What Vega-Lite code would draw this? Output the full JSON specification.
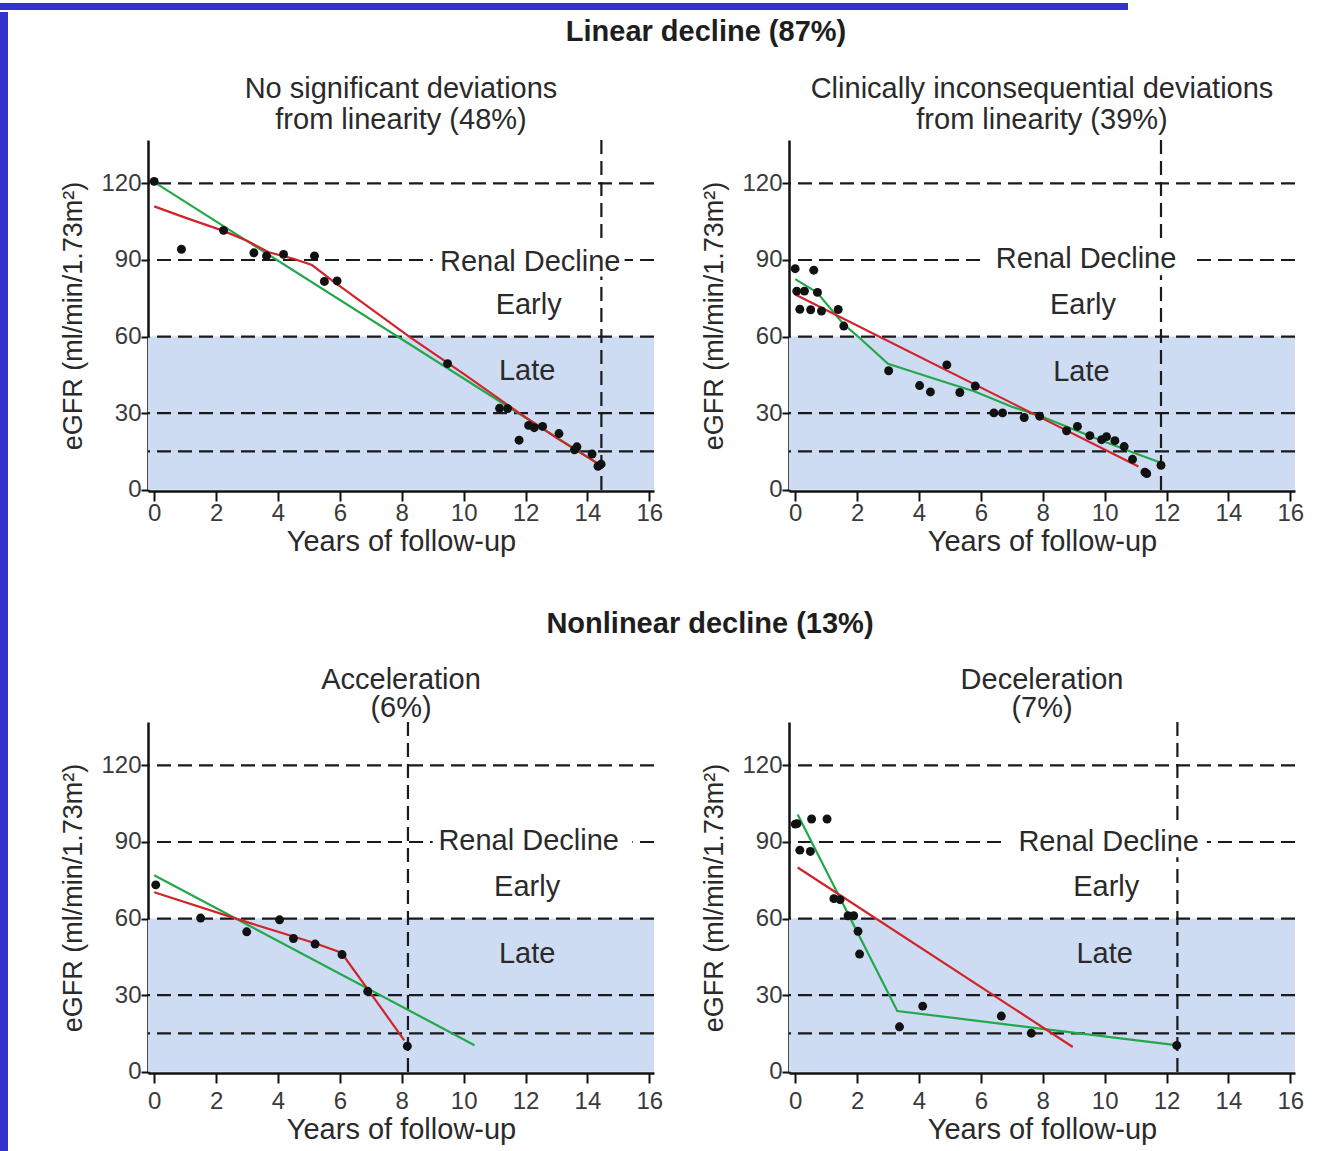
{
  "$schema": "https://vega.github.io/schema/vega-lite/v6.json",
  "padding": 0,
  "background": "white",
  "datasets": {
    "refs": [{"egfr": 120}, {"egfr": 90}, {"egfr": 60}, {"egfr": 30}, {"egfr": 15}],
    "band": [{"lo": 0, "hi": 60}],
    "head1": [{"t": "Linear decline (87%)"}],
    "head2": [{"t": "Nonlinear decline (13%)"}],
    "tl_pts": [{"x":0,"y":120.8},{"x":0.88,"y":94.2},{"x":2.24,"y":101.6},{"x":3.22,"y":92.8},{"x":3.63,"y":91.6},{"x":4.18,"y":92.2},{"x":5.18,"y":91.6},{"x":5.5,"y":81.6},{"x":5.91,"y":81.8},{"x":9.48,"y":49.4},{"x":11.16,"y":31.9},{"x":11.42,"y":31.8},{"x":11.79,"y":19.4},{"x":12.1,"y":25.2},{"x":12.28,"y":24.3},{"x":12.55,"y":24.8},{"x":13.08,"y":22},{"x":13.58,"y":15.6},{"x":13.66,"y":16.8},{"x":14.15,"y":14},{"x":14.34,"y":9.2},{"x":14.44,"y":10}],
    "tl_green": [{"x":0,"y":120.5},{"x":14.3,"y":10.5}],
    "tl_red": [{"x":0,"y":111},{"x":1,"y":106.6},{"x":2.26,"y":101.3},{"x":3,"y":97.5},{"x":3.7,"y":93},{"x":4.5,"y":90.5},{"x":5.1,"y":88},{"x":5.7,"y":82.4},{"x":8.24,"y":60},{"x":10,"y":45.4},{"x":11.8,"y":30},{"x":13,"y":20.3},{"x":14.3,"y":10.5}],
    "tl_cut": [{"t": 14.45}],
    "tl_box": [{"x0": 9.0, "x1": 15.2, "y0": 83.5, "y1": 96}],
    "tl_lab": [{"label":"Renal Decline","x":12.15,"y":89.3},{"label":"Early","x":12.1,"y":72.5},{"label":"Late","x":12.05,"y":46.5}],
    "tr_pts": [{"x":0,"y":86.6},{"x":0.05,"y":77.8},{"x":0.3,"y":77.8},{"x":0.15,"y":70.7},{"x":0.5,"y":70.5},{"x":0.6,"y":86},{"x":0.72,"y":77.3},{"x":0.85,"y":70},{"x":1.39,"y":70.6},{"x":1.57,"y":64.1},{"x":3.02,"y":46.6},{"x":4.02,"y":40.8},{"x":4.37,"y":38.3},{"x":4.9,"y":48.9},{"x":5.32,"y":38.1},{"x":5.82,"y":40.6},{"x":6.42,"y":30.1},{"x":6.7,"y":30.1},{"x":7.4,"y":28.3},{"x":7.9,"y":28.8},{"x":8.77,"y":23.1},{"x":9.12,"y":24.8},{"x":9.52,"y":21.2},{"x":9.9,"y":19.6},{"x":10.06,"y":20.8},{"x":10.33,"y":19.2},{"x":10.63,"y":16.9},{"x":10.9,"y":11.9},{"x":11.3,"y":6.9},{"x":11.36,"y":6.3},{"x":11.82,"y":9.6}],
    "tr_green": [{"x":0,"y":82.5},{"x":0.7,"y":77.3},{"x":1.55,"y":65},{"x":2.03,"y":60},{"x":3.0,"y":49.3},{"x":4.5,"y":43.5},{"x":5.8,"y":38.5},{"x":7.0,"y":32.5},{"x":7.9,"y":29},{"x":9.79,"y":19.8},{"x":10.98,"y":14.3},{"x":11.84,"y":10.5}],
    "tr_red": [{"x":0,"y":76.5},{"x":11.09,"y":9.1}],
    "tr_cut": [{"t": 11.82}],
    "tr_box": [{"x0": 6.1, "x1": 12.8, "y0": 84, "y1": 97}],
    "tr_lab": [{"label":"Renal Decline","x":9.4,"y":90.3},{"label":"Early","x":9.3,"y":72.3},{"label":"Late","x":9.25,"y":46.3}],
    "bl_pts": [{"x":0.05,"y":73.2},{"x":1.5,"y":60.2},{"x":2.99,"y":54.8},{"x":4.05,"y":59.5},{"x":4.5,"y":52.2},{"x":5.2,"y":50},{"x":6.07,"y":45.9},{"x":6.9,"y":31.5},{"x":8.18,"y":10}],
    "bl_green": [{"x":0,"y":77},{"x":10.35,"y":10.4}],
    "bl_red": [{"x":0,"y":70.3},{"x":3,"y":58.6},{"x":4.5,"y":53},{"x":5.2,"y":50.3},{"x":6.05,"y":46.6},{"x":6.95,"y":31.5},{"x":8.08,"y":12.3}],
    "bl_cut": [{"t": 8.2}],
    "bl_box": [{"x0": 9.0, "x1": 15.45, "y0": 84, "y1": 97}],
    "bl_lab": [{"label":"Renal Decline","x":12.1,"y":90.4},{"label":"Early","x":12.05,"y":72.2},{"label":"Late","x":12.05,"y":46.3}],
    "br_pts": [{"x":0,"y":97},{"x":0.06,"y":97.2},{"x":0.53,"y":99},{"x":1.03,"y":99},{"x":0.15,"y":86.8},{"x":0.49,"y":86.3},{"x":1.25,"y":67.8},{"x":1.45,"y":67.4},{"x":1.71,"y":61.1},{"x":1.89,"y":61.1},{"x":2.03,"y":55},{"x":2.08,"y":46.1},{"x":3.37,"y":17.6},{"x":4.12,"y":25.7},{"x":6.66,"y":21.8},{"x":7.63,"y":15.1},{"x":12.33,"y":10.3}],
    "br_green": [{"x":0.08,"y":100.8},{"x":3.3,"y":23.8},{"x":12.3,"y":10.4}],
    "br_red": [{"x":0.08,"y":80},{"x":8.97,"y":9.7}],
    "br_cut": [{"t": 12.35}],
    "br_box": [{"x0": 6.75, "x1": 13.3, "y0": 84, "y1": 97}],
    "br_lab": [{"label":"Renal Decline","x":10.13,"y":89.8},{"label":"Early","x":10.05,"y":72.2},{"label":"Late","x":10.0,"y":46.3}]
  },
  "spacing": 0,
  "vconcat": [
    {
      "width": 1128, "height": 7,
      "view": {"fill": "#3333cc", "stroke": null},
      "data": {"values": [{}]},
      "mark": {"type": "text"},
      "encoding": {"text": {"value": ""}}
    },
    {
      "spacing": 51,
      "hconcat": [
        {
          "width": 8, "height": 1144,
          "view": {"fill": "#3333cc", "stroke": null},
          "data": {"values": [{}]},
          "mark": {"type": "text"},
          "encoding": {"text": {"value": ""}}
        },
        {
          "spacing": 48,
          "vconcat": [
            {
              "spacing": 22,
              "vconcat": [
                {
                  "width": 1116, "height": 40,
                  "data": {"name": "head1"},
                  "mark": {"type": "text", "fontSize": 29, "fontWeight": "bold", "color": "#1e1e1e", "baseline": "middle", "align": "center"},
                  "encoding": {"text": {"field": "t"}}
                },
                {
                  "spacing": 37,
                  "hconcat": [
                    {
                      "width": 506, "height": 351,
                      "title": {"text": ["No significant deviations", "from linearity (48%)"], "lineHeight": 31, "offset": 4},
                      "layer": [
                        {"data": {"name": "band"}, "mark": {"type": "rect", "color": "#cddcf2"},
                         "encoding": {"x": {"datum": -0.2, "type": "quantitative", "scale": {"domain": [-0.2, 16.15], "nice": false, "zero": false}}, "x2": {"datum": 16.15},
                                      "y": {"field": "lo", "type": "quantitative", "scale": {"domain": [-0.5, 137], "nice": false, "zero": false}}, "y2": {"field": "hi"}}},
                        {"data": {"name": "refs"}, "mark": {"type": "rule", "color": "#1a1a1a", "strokeWidth": 2.2, "strokeDash": [14, 7]},
                         "encoding": {"y": {"field": "egfr", "type": "quantitative", "scale": {"domain": [-0.5, 137], "nice": false, "zero": false}}}},
                        {"data": {"name": "tl_cut"}, "mark": {"type": "rule", "color": "#1a1a1a", "strokeWidth": 2.2, "strokeDash": [14, 7]},
                         "encoding": {"x": {"field": "t", "type": "quantitative", "scale": {"domain": [-0.2, 16.15], "nice": false, "zero": false}}}},
                        {"data": {"name": "tl_box"}, "mark": {"type": "rect", "color": "white"},
                         "encoding": {"x": {"field": "x0", "type": "quantitative", "scale": {"domain": [-0.2, 16.15], "nice": false, "zero": false}}, "x2": {"field": "x1"},
                                      "y": {"field": "y0", "type": "quantitative", "scale": {"domain": [-0.5, 137], "nice": false, "zero": false}}, "y2": {"field": "y1"}}},
                        {"data": {"name": "tl_lab"}, "mark": {"type": "text", "fontSize": 29, "color": "#2a2a2a", "align": "center", "baseline": "middle"},
                         "encoding": {"x": {"field": "x", "type": "quantitative", "scale": {"domain": [-0.2, 16.15], "nice": false, "zero": false}},
                                      "y": {"field": "y", "type": "quantitative", "scale": {"domain": [-0.5, 137], "nice": false, "zero": false}}, "text": {"field": "label"}}},
                        {"data": {"name": "tl_green"}, "mark": {"type": "line", "color": "#22a84a", "strokeWidth": 2.2},
                         "encoding": {"x": {"field": "x", "type": "quantitative", "scale": {"domain": [-0.2, 16.15], "nice": false, "zero": false}},
                                      "y": {"field": "y", "type": "quantitative", "scale": {"domain": [-0.5, 137], "nice": false, "zero": false}}}},
                        {"data": {"name": "tl_red"}, "mark": {"type": "line", "color": "#d2232a", "strokeWidth": 2.2},
                         "encoding": {"x": {"field": "x", "type": "quantitative", "scale": {"domain": [-0.2, 16.15], "nice": false, "zero": false}},
                                      "y": {"field": "y", "type": "quantitative", "scale": {"domain": [-0.5, 137], "nice": false, "zero": false}}}},
                        {"data": {"name": "tl_pts"}, "mark": {"type": "circle", "size": 80, "color": "#111111", "opacity": 1},
                         "encoding": {"x": {"field": "x", "type": "quantitative", "scale": {"domain": [-0.2, 16.15], "nice": false, "zero": false},
                                            "axis": {"title": "Years of follow-up", "values": [0,0.5,1,1.5,2,2.5,3,3.5,4,4.5,5,5.5,6,6.5,7,7.5,8,8.5,9,9.5,10,10.5,11,11.5,12,12.5,13,13.5,14,14.5,15,15.5,16], "labelExpr": "datum.value % 2 === 0 ? datum.label : ''", "labelOverlap": false, "labelFlush": false, "tickSize": {"condition": {"test": "datum.value % 2 === 0", "value": 10}, "value": 6}, "labelPadding": 0, "titlePadding": 2}},
                                      "y": {"field": "y", "type": "quantitative", "scale": {"domain": [-0.5, 137], "nice": false, "zero": false},
                                            "axis": {"title": "eGFR (ml/min/1.73m²)", "values": [0,7.5,15,22.5,30,37.5,45,52.5,60,67.5,75,82.5,90,97.5,105,112.5,120,127.5,135], "labelExpr": "datum.value % 30 === 0 ? datum.label : ''", "labelOverlap": false, "tickSize": 7, "labelPadding": 0, "titlePadding": 13, "titleFontSize": 27}}}}
                      ]
                    },
                    {
                      "width": 506, "height": 351,
                      "title": {"text": ["Clinically inconsequential deviations", "from linearity (39%)"], "lineHeight": 31, "offset": 4},
                      "layer": [
                        {"data": {"name": "band"}, "mark": {"type": "rect", "color": "#cddcf2"},
                         "encoding": {"x": {"datum": -0.2, "type": "quantitative", "scale": {"domain": [-0.2, 16.15], "nice": false, "zero": false}}, "x2": {"datum": 16.15},
                                      "y": {"field": "lo", "type": "quantitative", "scale": {"domain": [-0.5, 137], "nice": false, "zero": false}}, "y2": {"field": "hi"}}},
                        {"data": {"name": "refs"}, "mark": {"type": "rule", "color": "#1a1a1a", "strokeWidth": 2.2, "strokeDash": [14, 7]},
                         "encoding": {"y": {"field": "egfr", "type": "quantitative", "scale": {"domain": [-0.5, 137], "nice": false, "zero": false}}}},
                        {"data": {"name": "tr_cut"}, "mark": {"type": "rule", "color": "#1a1a1a", "strokeWidth": 2.2, "strokeDash": [14, 7]},
                         "encoding": {"x": {"field": "t", "type": "quantitative", "scale": {"domain": [-0.2, 16.15], "nice": false, "zero": false}}}},
                        {"data": {"name": "tr_box"}, "mark": {"type": "rect", "color": "white"},
                         "encoding": {"x": {"field": "x0", "type": "quantitative", "scale": {"domain": [-0.2, 16.15], "nice": false, "zero": false}}, "x2": {"field": "x1"},
                                      "y": {"field": "y0", "type": "quantitative", "scale": {"domain": [-0.5, 137], "nice": false, "zero": false}}, "y2": {"field": "y1"}}},
                        {"data": {"name": "tr_lab"}, "mark": {"type": "text", "fontSize": 29, "color": "#2a2a2a", "align": "center", "baseline": "middle"},
                         "encoding": {"x": {"field": "x", "type": "quantitative", "scale": {"domain": [-0.2, 16.15], "nice": false, "zero": false}},
                                      "y": {"field": "y", "type": "quantitative", "scale": {"domain": [-0.5, 137], "nice": false, "zero": false}}, "text": {"field": "label"}}},
                        {"data": {"name": "tr_green"}, "mark": {"type": "line", "color": "#22a84a", "strokeWidth": 2.2},
                         "encoding": {"x": {"field": "x", "type": "quantitative", "scale": {"domain": [-0.2, 16.15], "nice": false, "zero": false}},
                                      "y": {"field": "y", "type": "quantitative", "scale": {"domain": [-0.5, 137], "nice": false, "zero": false}}}},
                        {"data": {"name": "tr_red"}, "mark": {"type": "line", "color": "#d2232a", "strokeWidth": 2.2},
                         "encoding": {"x": {"field": "x", "type": "quantitative", "scale": {"domain": [-0.2, 16.15], "nice": false, "zero": false}},
                                      "y": {"field": "y", "type": "quantitative", "scale": {"domain": [-0.5, 137], "nice": false, "zero": false}}}},
                        {"data": {"name": "tr_pts"}, "mark": {"type": "circle", "size": 80, "color": "#111111", "opacity": 1},
                         "encoding": {"x": {"field": "x", "type": "quantitative", "scale": {"domain": [-0.2, 16.15], "nice": false, "zero": false},
                                            "axis": {"title": "Years of follow-up", "values": [0,0.5,1,1.5,2,2.5,3,3.5,4,4.5,5,5.5,6,6.5,7,7.5,8,8.5,9,9.5,10,10.5,11,11.5,12,12.5,13,13.5,14,14.5,15,15.5,16], "labelExpr": "datum.value % 2 === 0 ? datum.label : ''", "labelOverlap": false, "labelFlush": false, "tickSize": {"condition": {"test": "datum.value % 2 === 0", "value": 10}, "value": 6}, "labelPadding": 0, "titlePadding": 2}},
                                      "y": {"field": "y", "type": "quantitative", "scale": {"domain": [-0.5, 137], "nice": false, "zero": false},
                                            "axis": {"title": "eGFR (ml/min/1.73m²)", "values": [0,7.5,15,22.5,30,37.5,45,52.5,60,67.5,75,82.5,90,97.5,105,112.5,120,127.5,135], "labelExpr": "datum.value % 30 === 0 ? datum.label : ''", "labelOverlap": false, "tickSize": 7, "labelPadding": 0, "titlePadding": 13, "titleFontSize": 27}}}}
                      ]
                    }
                  ]
                }
              ]
            },
            {
              "spacing": 21,
              "vconcat": [
                {
                  "width": 1124, "height": 40,
                  "data": {"name": "head2"},
                  "mark": {"type": "text", "fontSize": 29, "fontWeight": "bold", "color": "#1e1e1e", "baseline": "middle", "align": "center"},
                  "encoding": {"text": {"field": "t"}}
                },
                {
                  "spacing": 37,
                  "hconcat": [
                    {
                      "width": 506, "height": 351,
                      "title": {"text": ["Acceleration", "(6%)"], "lineHeight": 28, "offset": -2},
                      "layer": [
                        {"data": {"name": "band"}, "mark": {"type": "rect", "color": "#cddcf2"},
                         "encoding": {"x": {"datum": -0.2, "type": "quantitative", "scale": {"domain": [-0.2, 16.15], "nice": false, "zero": false}}, "x2": {"datum": 16.15},
                                      "y": {"field": "lo", "type": "quantitative", "scale": {"domain": [-0.5, 137], "nice": false, "zero": false}}, "y2": {"field": "hi"}}},
                        {"data": {"name": "refs"}, "mark": {"type": "rule", "color": "#1a1a1a", "strokeWidth": 2.2, "strokeDash": [14, 7]},
                         "encoding": {"y": {"field": "egfr", "type": "quantitative", "scale": {"domain": [-0.5, 137], "nice": false, "zero": false}}}},
                        {"data": {"name": "bl_cut"}, "mark": {"type": "rule", "color": "#1a1a1a", "strokeWidth": 2.2, "strokeDash": [14, 7]},
                         "encoding": {"x": {"field": "t", "type": "quantitative", "scale": {"domain": [-0.2, 16.15], "nice": false, "zero": false}}}},
                        {"data": {"name": "bl_box"}, "mark": {"type": "rect", "color": "white"},
                         "encoding": {"x": {"field": "x0", "type": "quantitative", "scale": {"domain": [-0.2, 16.15], "nice": false, "zero": false}}, "x2": {"field": "x1"},
                                      "y": {"field": "y0", "type": "quantitative", "scale": {"domain": [-0.5, 137], "nice": false, "zero": false}}, "y2": {"field": "y1"}}},
                        {"data": {"name": "bl_lab"}, "mark": {"type": "text", "fontSize": 29, "color": "#2a2a2a", "align": "center", "baseline": "middle"},
                         "encoding": {"x": {"field": "x", "type": "quantitative", "scale": {"domain": [-0.2, 16.15], "nice": false, "zero": false}},
                                      "y": {"field": "y", "type": "quantitative", "scale": {"domain": [-0.5, 137], "nice": false, "zero": false}}, "text": {"field": "label"}}},
                        {"data": {"name": "bl_green"}, "mark": {"type": "line", "color": "#22a84a", "strokeWidth": 2.2},
                         "encoding": {"x": {"field": "x", "type": "quantitative", "scale": {"domain": [-0.2, 16.15], "nice": false, "zero": false}},
                                      "y": {"field": "y", "type": "quantitative", "scale": {"domain": [-0.5, 137], "nice": false, "zero": false}}}},
                        {"data": {"name": "bl_red"}, "mark": {"type": "line", "color": "#d2232a", "strokeWidth": 2.2},
                         "encoding": {"x": {"field": "x", "type": "quantitative", "scale": {"domain": [-0.2, 16.15], "nice": false, "zero": false}},
                                      "y": {"field": "y", "type": "quantitative", "scale": {"domain": [-0.5, 137], "nice": false, "zero": false}}}},
                        {"data": {"name": "bl_pts"}, "mark": {"type": "circle", "size": 80, "color": "#111111", "opacity": 1},
                         "encoding": {"x": {"field": "x", "type": "quantitative", "scale": {"domain": [-0.2, 16.15], "nice": false, "zero": false},
                                            "axis": {"title": "Years of follow-up", "values": [0,0.5,1,1.5,2,2.5,3,3.5,4,4.5,5,5.5,6,6.5,7,7.5,8,8.5,9,9.5,10,10.5,11,11.5,12,12.5,13,13.5,14,14.5,15,15.5,16], "labelExpr": "datum.value % 2 === 0 ? datum.label : ''", "labelOverlap": false, "labelFlush": false, "tickSize": {"condition": {"test": "datum.value % 2 === 0", "value": 10}, "value": 6}, "labelPadding": 6, "titlePadding": 2}},
                                      "y": {"field": "y", "type": "quantitative", "scale": {"domain": [-0.5, 137], "nice": false, "zero": false},
                                            "axis": {"title": "eGFR (ml/min/1.73m²)", "values": [0,7.5,15,22.5,30,37.5,45,52.5,60,67.5,75,82.5,90,97.5,105,112.5,120,127.5,135], "labelExpr": "datum.value % 30 === 0 ? datum.label : ''", "labelOverlap": false, "tickSize": 7, "labelPadding": 0, "titlePadding": 13, "titleFontSize": 27}}}}
                      ]
                    },
                    {
                      "width": 506, "height": 351,
                      "title": {"text": ["Deceleration", "(7%)"], "lineHeight": 28, "offset": -2},
                      "layer": [
                        {"data": {"name": "band"}, "mark": {"type": "rect", "color": "#cddcf2"},
                         "encoding": {"x": {"datum": -0.2, "type": "quantitative", "scale": {"domain": [-0.2, 16.15], "nice": false, "zero": false}}, "x2": {"datum": 16.15},
                                      "y": {"field": "lo", "type": "quantitative", "scale": {"domain": [-0.5, 137], "nice": false, "zero": false}}, "y2": {"field": "hi"}}},
                        {"data": {"name": "refs"}, "mark": {"type": "rule", "color": "#1a1a1a", "strokeWidth": 2.2, "strokeDash": [14, 7]},
                         "encoding": {"y": {"field": "egfr", "type": "quantitative", "scale": {"domain": [-0.5, 137], "nice": false, "zero": false}}}},
                        {"data": {"name": "br_cut"}, "mark": {"type": "rule", "color": "#1a1a1a", "strokeWidth": 2.2, "strokeDash": [14, 7]},
                         "encoding": {"x": {"field": "t", "type": "quantitative", "scale": {"domain": [-0.2, 16.15], "nice": false, "zero": false}}}},
                        {"data": {"name": "br_box"}, "mark": {"type": "rect", "color": "white"},
                         "encoding": {"x": {"field": "x0", "type": "quantitative", "scale": {"domain": [-0.2, 16.15], "nice": false, "zero": false}}, "x2": {"field": "x1"},
                                      "y": {"field": "y0", "type": "quantitative", "scale": {"domain": [-0.5, 137], "nice": false, "zero": false}}, "y2": {"field": "y1"}}},
                        {"data": {"name": "br_lab"}, "mark": {"type": "text", "fontSize": 29, "color": "#2a2a2a", "align": "center", "baseline": "middle"},
                         "encoding": {"x": {"field": "x", "type": "quantitative", "scale": {"domain": [-0.2, 16.15], "nice": false, "zero": false}},
                                      "y": {"field": "y", "type": "quantitative", "scale": {"domain": [-0.5, 137], "nice": false, "zero": false}}, "text": {"field": "label"}}},
                        {"data": {"name": "br_green"}, "mark": {"type": "line", "color": "#22a84a", "strokeWidth": 2.2},
                         "encoding": {"x": {"field": "x", "type": "quantitative", "scale": {"domain": [-0.2, 16.15], "nice": false, "zero": false}},
                                      "y": {"field": "y", "type": "quantitative", "scale": {"domain": [-0.5, 137], "nice": false, "zero": false}}}},
                        {"data": {"name": "br_red"}, "mark": {"type": "line", "color": "#d2232a", "strokeWidth": 2.2},
                         "encoding": {"x": {"field": "x", "type": "quantitative", "scale": {"domain": [-0.2, 16.15], "nice": false, "zero": false}},
                                      "y": {"field": "y", "type": "quantitative", "scale": {"domain": [-0.5, 137], "nice": false, "zero": false}}}},
                        {"data": {"name": "br_pts"}, "mark": {"type": "circle", "size": 80, "color": "#111111", "opacity": 1},
                         "encoding": {"x": {"field": "x", "type": "quantitative", "scale": {"domain": [-0.2, 16.15], "nice": false, "zero": false},
                                            "axis": {"title": "Years of follow-up", "values": [0,0.5,1,1.5,2,2.5,3,3.5,4,4.5,5,5.5,6,6.5,7,7.5,8,8.5,9,9.5,10,10.5,11,11.5,12,12.5,13,13.5,14,14.5,15,15.5,16], "labelExpr": "datum.value % 2 === 0 ? datum.label : ''", "labelOverlap": false, "labelFlush": false, "tickSize": {"condition": {"test": "datum.value % 2 === 0", "value": 10}, "value": 6}, "labelPadding": 6, "titlePadding": 2}},
                                      "y": {"field": "y", "type": "quantitative", "scale": {"domain": [-0.5, 137], "nice": false, "zero": false},
                                            "axis": {"title": "eGFR (ml/min/1.73m²)", "values": [0,7.5,15,22.5,30,37.5,45,52.5,60,67.5,75,82.5,90,97.5,105,112.5,120,127.5,135], "labelExpr": "datum.value % 30 === 0 ? datum.label : ''", "labelOverlap": false, "tickSize": 7, "labelPadding": 0, "titlePadding": 13, "titleFontSize": 27}}}}
                      ]
                    }
                  ]
                }
              ]
            }
          ]
        }
      ]
    }
  ],
  "config": {
    "view": {"stroke": null},
    "font": "Liberation Sans",
    "axis": {"grid": false, "domainColor": "#111111", "domainWidth": 2.5, "tickColor": "#111111", "tickWidth": 2, "labelFont": "Liberation Sans", "labelFontSize": 24, "labelColor": "#3a3a3a", "titleFont": "Liberation Sans", "titleFontSize": 29, "titleFontWeight": "normal", "titleColor": "#2a2a2a"},
    "title": {"font": "Liberation Sans", "fontSize": 29, "fontWeight": "normal", "color": "#2a2a2a", "anchor": "middle", "frame": "group"}
  }
}
